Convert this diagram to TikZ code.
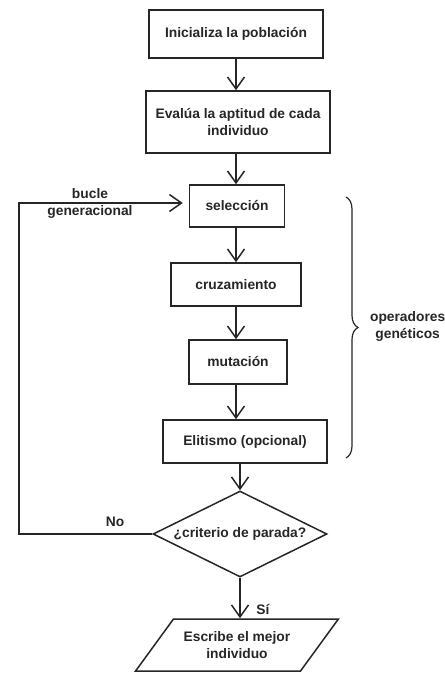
\documentclass[tikz,border=0pt]{standalone}
\usepackage{fontspec}
\setmainfont{Liberation Sans}
\usetikzlibrary{arrows.meta,shapes.geometric,decorations.pathreplacing}
\begin{document}
\begin{tikzpicture}[x=1pt,y=-1pt,line width=1.5pt,color=black!85,
  font=\fontsize{13.8}{17}\selectfont\bfseries,
  caja/.style={draw,rectangle,inner sep=2pt,align=center},
  flecha/.style={-{Straight Barb[length=12pt,width=17pt]}}]
 \useasboundingbox (0,0) rectangle (445,673);
 % cajas del diagrama
 \node[caja,minimum width=174pt,minimum height=48pt] (ini) at (236,34) {Inicializa la población};
 \node[caja,minimum width=184pt,minimum height=62pt] (eval) at (238,122) {Evalúa la aptitud de cada\\individuo};
 \node[caja,minimum width=95pt,minimum height=42pt] (sel) at (237,206) {selección};
 \node[caja,minimum width=130pt,minimum height=43pt] (cruz) at (236,284.5) {cruzamiento};
 \node[caja,minimum width=98pt,minimum height=44pt] (mut) at (238,362) {mutación};
 \node[caja,minimum width=164pt,minimum height=43pt] (elit) at (245,441.5) {Elitismo (opcional)};
 \node[draw,diamond,aspect=2,inner sep=0pt,minimum width=174pt,minimum height=86pt] (crit) at (240,534) {¿criterio de parada?};
 \node[draw,trapezium,trapezium left angle=45,trapezium right angle=135,trapezium stretches=true,
   minimum width=203pt,minimum height=52pt,align=center] (esc) at (237,645) {Escribe el mejor\\individuo};
 % flechas
 \draw[flecha] (ini.south) -- (ini.south |- eval.north);
 \draw[flecha] (ini.south |- eval.south) -- (ini.south |- sel.north);
 \draw[flecha] (cruz.north |- sel.south) -- (cruz.north);
 \draw[flecha] (cruz.south) -- (cruz.south |- mut.north);
 \draw[flecha] (cruz.south |- mut.south) -- (cruz.south |- elit.north);
 \draw[flecha] (crit.north |- elit.south) -- (crit.north);
 \draw[flecha] (crit.south) -- (crit.south |- esc.north);
 % bucle
 \coordinate (vuelta) at (19,203);
 \draw[flecha,shorten >=6pt] (crit.west) -| (vuelta) -- (vuelta -| sel.west);
 \node[align=center] (bucle) at (90,203) {bucle\\generacional};
 \node (no) at (115,522) {No};
 \node (si) at (263,609) {Sí};
 % llave
 \draw[line width=1.2pt,decorate,decoration={brace,amplitude=12pt}] (346,197) -- (346,458);
 \node[align=center,anchor=west] (oper) at (366,326) {operadores\\genéticos};
\end{tikzpicture}
\end{document}
